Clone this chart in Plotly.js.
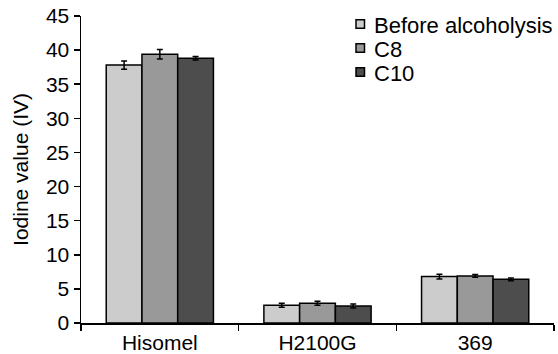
<!DOCTYPE html>
<html>
<head>
<meta charset="utf-8">
<script src="https://cdn.plot.ly/plotly-3.0.1.min.js"></script>
<style>html,body{margin:0;padding:0;background:#fff;}#chart{width:558px;height:354px;}</style>
</head>
<body>
<div id="chart"></div>
<script>
const categories = ["Hisomel", "H2100G", "369"];
const seriesNames = ["Before alcoholysis", "C8", "C10"];
const beforeValues = [37.8, 2.6, 6.8];
const beforeErrors = [0.6, 0.3, 0.35];
const c8Values = [39.4, 2.9, 6.9];
const c8Errors = [0.7, 0.3, 0.2];
const c10Values = [38.8, 2.5, 6.4];
const c10Errors = [0.25, 0.3, 0.2];
const yTickValues = [0, 5, 10, 15, 20, 25, 30, 35, 40, 45];

const colors = ["#cccccc", "#999999", "#4d4d4d"];
const values = [beforeValues, c8Values, c10Values];
const errors = [beforeErrors, c8Errors, c10Errors];

const W = 558, H = 354;
const M = {l: 81, r: 4, t: 16, b: 31};
const plotW = W - M.l - M.r, plotH = H - M.t - M.b;
const px2x = p => (p - M.l) / plotW;
const px2y = p => (H - M.b - p) / plotH;

const traces = seriesNames.map((name, i) => ({
  type: "bar",
  name: name,
  x: categories,
  y: values[i],
  showlegend: false,
  marker: {color: colors[i], line: {color: "#000", width: 1.5}},
  error_y: {type: "data", array: errors[i], visible: true, color: "#000", thickness: 1.5, width: 3}
}));

const font = {family: "Liberation Sans, Arial, sans-serif", size: 21, color: "#000"};
const legendFont = {family: "Liberation Sans, Arial, sans-serif", size: 22, color: "#000"};

// custom legend (small outlined squares, tight rows)
const shapes = [];
const annotations = [];
seriesNames.forEach((name, i) => {
  const cy = 24 + 24 * i;
  shapes.push({
    type: "rect", xref: "paper", yref: "paper",
    x0: px2x(356), x1: px2x(364.5), y0: px2y(cy - 4.25), y1: px2y(cy + 4.25),
    fillcolor: colors[i], line: {color: "#000", width: 1.5}
  });
  annotations.push({
    xref: "paper", yref: "paper", x: px2x(372), y: px2y(cy + 1),
    xanchor: "left", yanchor: "middle", showarrow: false,
    text: name, font: legendFont
  });
});

const layout = {
  width: W, height: H,
  margin: M,
  paper_bgcolor: "#fff", plot_bgcolor: "#fff",
  font: font,
  barmode: "group",
  bargap: 0.32,
  bargroupgap: 0,
  showlegend: false,
  shapes: shapes,
  annotations: annotations,
  xaxis: {
    type: "category",
    range: [-0.5, 2.5],
    showline: true, linecolor: "#000", linewidth: 1.5,
    ticks: "outside", ticklen: 6, tickwidth: 1.5, tickcolor: "#000",
    tickson: "boundaries",
    showgrid: false, zeroline: false,
    tickfont: font
  },
  yaxis: {
    range: [0, 45],
    tickvals: yTickValues,
    showline: true, linecolor: "#000", linewidth: 1.5,
    ticks: "outside", ticklen: 6, tickwidth: 1.5, tickcolor: "#000",
    showgrid: false, zeroline: false,
    tickfont: font,
    title: {text: "Iodine value (IV)", font: font, standoff: 11}
  }
};

Plotly.newPlot("chart", traces, layout, {displayModeBar: false, staticPlot: true});
</script>
</body>
</html>
